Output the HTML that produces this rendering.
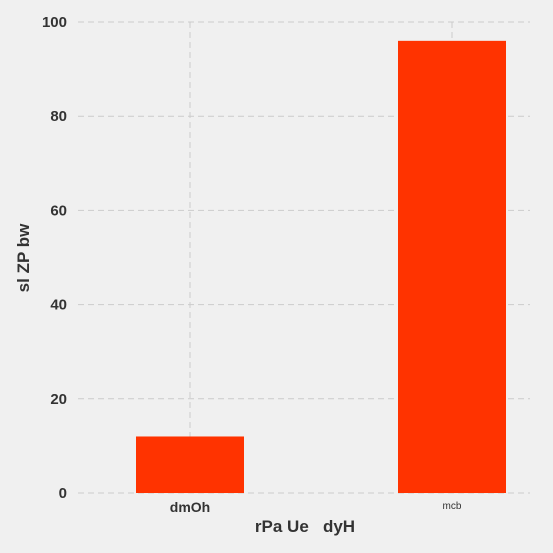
<!DOCTYPE html>
<html><head><style>
body{margin:0;background:#f0f0f0;}
svg{display:block;font-family:"Liberation Sans",sans-serif;}
</style></head><body>
<svg id="chart" width="553" height="553">
<rect width="553" height="553" fill="#f0f0f0"/>
<g id="grid"></g><g id="bars"></g><g id="labels"></g>
<text x="305" y="532" text-anchor="middle" font-size="17" font-weight="bold" fill="#333" xml:space="preserve">rPa Ue   dyH</text>
<text transform="translate(29,258) rotate(-90)" text-anchor="middle" font-size="17" font-weight="bold" fill="#333">sl ZP bw</text>
</svg>
<script>
const categories=["dmOh","mcb"];
const values=[12,96];
const yTicks=[0,20,40,60,80,100];
const catFontSize=[14,10];
const catWeight=["bold","normal"];
const ns="http://www.w3.org/2000/svg";
const x0=78,x1=530,y0=493,y1=22;
const band=(x1-x0)/categories.length;
function xc(i){return 190+i*262;}
function yv(v){return y0-(v/100)*(y0-y1);}
function mk(t,a,p){const e=document.createElementNS(ns,t);for(const k in a)e.setAttribute(k,a[k]);p.appendChild(e);return e;}
const grid=document.getElementById('grid'),bars=document.getElementById('bars'),labels=document.getElementById('labels');
yTicks.forEach(t=>{
 const l=mk('line',{x1:x0,x2:x1,y1:yv(t),y2:yv(t),stroke:'#cbcbcb','stroke-dasharray':'6,4'},grid);
 
 
 const tx=mk('text',{x:67,y:yv(t)+5,'text-anchor':'end','font-size':15,'font-weight':'bold',fill:'#333'},labels);
 tx.textContent=t;
 
 
});
categories.forEach((c,i)=>{
 const l=mk('line',{x1:xc(i),x2:xc(i),y1:y1,y2:y0,stroke:'#cbcbcb','stroke-dasharray':'6,4'},grid);
 
 
 const r=mk('rect',{x:xc(i)-54,width:108,y:yv(values[i]),height:y0-yv(values[i]),fill:'#ff3300'},bars);
 
 
 const tx=mk('text',{x:xc(i),y:catWeight[i]==='bold'?512:509,'text-anchor':'middle','font-size':catFontSize[i],'font-weight':catWeight[i],fill:'#333'},labels);
 tx.textContent=c;
 
 
});
</script>
</body></html>
